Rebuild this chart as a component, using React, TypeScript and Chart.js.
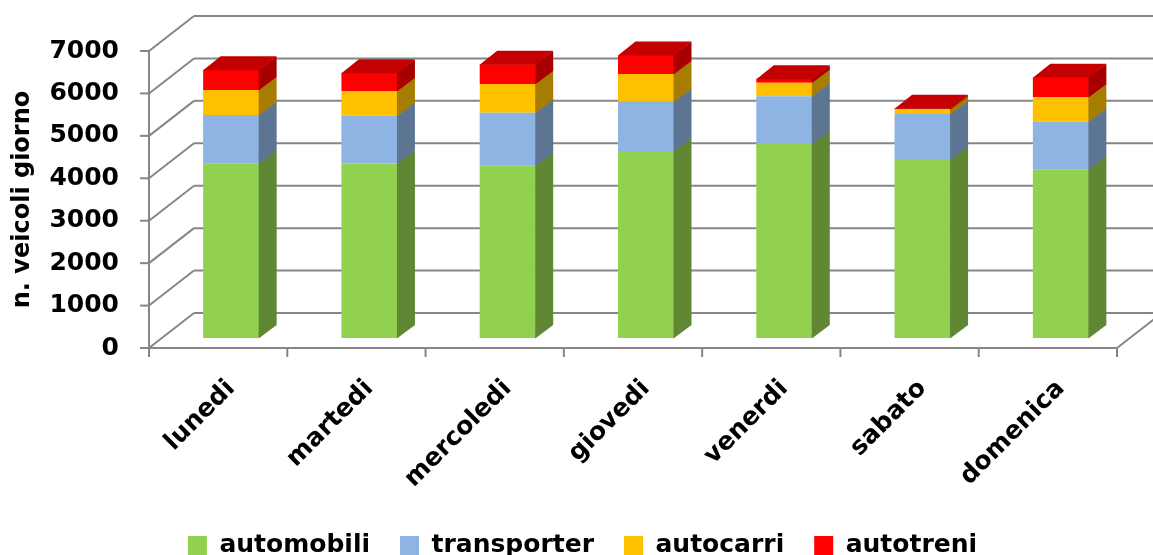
import React, { useEffect, useRef } from 'react';
import { Chart, registerables } from 'chart.js';

Chart.register(...registerables);

// ---- data ----
const days = ['lunedi', 'martedi', 'mercoledi', 'giovedi', 'venerdi', 'sabato', 'domenica'];
const automobili = [4120, 4110, 4060, 4410, 4570, 4195, 3975];
const transporter = [1135, 1130, 1250, 1160, 1130, 1085, 1120];
const autocarri = [590, 580, 675, 650, 315, 110, 580];
const autotreni = [480, 430, 465, 450, 95, 25, 470];
const seriesNames = ['automobili', 'transporter', 'autocarri', 'autotreni'];
const seriesColors = ['#92D050', '#8DB4E2', '#FFC000', '#FF0000'];
const yMin = 0;
const yMax = 7000;
const yStep = 1000;
const yTitle = 'n. veicoli giorno';

// ---- 3D look ----
const FRONT = { dx: -13, dy: 10 };
const BACK = { dx: 32, dy: -25 };
const DEPTH = { dx: 17.5, dy: -13.5 };
const GRID = '#868686';
const FONT = 'DejaVu Sans';

function shade(hex: string, f: number) {
  const n = parseInt(hex.slice(1), 16);
  const r = Math.round(((n >> 16) & 255) * f);
  const g = Math.round(((n >> 8) & 255) * f);
  const b = Math.round((n & 255) * f);
  return `rgb(${r},${g},${b})`;
}

const walls3d = {
  id: 'walls3d',
  beforeDatasetsDraw(chart: any) {
    const { ctx, chartArea, scales } = chart;
    const xs = scales.x;
    const ys = scales.y;
    const line = (x1: number, y1: number, x2: number, y2: number) => {
      ctx.beginPath();
      ctx.moveTo(x1, y1);
      ctx.lineTo(x2, y2);
      ctx.stroke();
    };
    ctx.save();
    ctx.strokeStyle = GRID;
    ctx.lineWidth = 2;
    const leftF = chartArea.left + FRONT.dx;
    const leftB = chartArea.left + BACK.dx;
    const rightF = chartArea.right + FRONT.dx;
    const rightB = chartArea.right + BACK.dx;
    ys.ticks.forEach((t: any) => {
      const py = ys.getPixelForValue(t.value);
      line(leftB, py + BACK.dy, rightB, py + BACK.dy);
      line(leftF, py + FRONT.dy, leftB, py + BACK.dy);
      line(leftF - 9, py + FRONT.dy, leftF, py + FRONT.dy);
    });
    const y0 = ys.getPixelForValue(yMin);
    const yTop = ys.getPixelForValue(yMax);
    line(leftF, yTop + FRONT.dy - 1, leftF, y0 + FRONT.dy + 1);
    line(leftF, y0 + FRONT.dy, rightF, y0 + FRONT.dy);
    line(rightF, y0 + FRONT.dy, rightB, y0 + BACK.dy);
    const n = days.length;
    const half = (xs.getPixelForValue(1) - xs.getPixelForValue(0)) / 2;
    for (let i = 0; i <= n; i++) {
      const bx = (i < n ? xs.getPixelForValue(i) - half : xs.getPixelForValue(n - 1) + half) + FRONT.dx;
      line(bx, y0 + FRONT.dy, bx, y0 + FRONT.dy + 9);
    }
    ctx.restore();
  },
  afterDatasetsDraw(chart: any) {
    const { ctx } = chart;
    const last = chart.data.datasets.length - 1;
    ctx.save();
    chart.data.datasets.forEach((ds: any, di: number) => {
      const meta = chart.getDatasetMeta(di);
      meta.data.forEach((bar: any) => {
        const { x, y, base, width } = bar.getProps(['x', 'y', 'base', 'width'], true);
        const left = x - width / 2;
        const right = x + width / 2;
        ctx.fillStyle = shade(ds.backgroundColor, 0.65);
        ctx.beginPath();
        ctx.moveTo(right - 0.5, y);
        ctx.lineTo(right + DEPTH.dx, y + DEPTH.dy);
        ctx.lineTo(right + DEPTH.dx, base + DEPTH.dy + 0.5);
        ctx.lineTo(right - 0.5, base + 0.5);
        ctx.closePath();
        ctx.fill();
        if (di === last) {
          ctx.fillStyle = shade(ds.backgroundColor, 0.77);
          ctx.beginPath();
          ctx.moveTo(left, y + 0.5);
          ctx.lineTo(left + DEPTH.dx, y + DEPTH.dy);
          ctx.lineTo(right + DEPTH.dx, y + DEPTH.dy);
          ctx.lineTo(right, y + 0.5);
          ctx.closePath();
          ctx.fill();
        }
      });
    });
    ctx.restore();
  },
  afterDraw(chart: any) {
    const { ctx, scales } = chart;
    const ys = scales.y;
    const cy = (ys.getPixelForValue(yMin) + ys.getPixelForValue(yMax)) / 2 + FRONT.dy;
    ctx.save();
    ctx.translate(29, cy);
    ctx.rotate(-Math.PI / 2);
    ctx.font = `bold 24px "${FONT}"`;
    ctx.fillStyle = '#000';
    ctx.textAlign = 'center';
    ctx.textBaseline = 'alphabetic';
    ctx.fillText(yTitle, 0, 0);
    ctx.restore();
  },
};

export default function App() {
  const ref = useRef<HTMLCanvasElement>(null);
  useEffect(() => {
    const series = [automobili, transporter, autocarri, autotreni];
    const tickFont = { family: FONT, size: 25, weight: 'bold' as const };
    const chart = new Chart(ref.current as HTMLCanvasElement, {
      type: 'bar',
      data: {
        labels: days,
        datasets: series.map((d, i) => ({
          label: seriesNames[i],
          data: d,
          backgroundColor: seriesColors[i],
          borderWidth: 0,
          categoryPercentage: 1,
          barPercentage: 0.405,
        })),
      },
      options: {
        responsive: false,
        animation: false,
        events: [],
        layout: { padding: { left: 35, right: 23, top: 41, bottom: 2 } },
        plugins: {
          legend: {
            position: 'bottom',
            labels: {
              boxWidth: 19,
              boxHeight: 19,
              padding: 30,
              color: '#000',
              font: tickFont,
            },
          },
          tooltip: { enabled: false },
        },
        scales: {
          x: {
            stacked: true,
            offset: true,
            grid: { display: false, drawTicks: false },
            border: { display: false },
            ticks: {
              autoSkip: false,
              minRotation: 45,
              maxRotation: 45,
              padding: 36,
              color: '#000',
              font: tickFont,
            },
            afterFit: (s: any) => {
              s.height = 165;
              s.paddingLeft = 0;
              s.paddingRight = 0;
            },
          },
          y: {
            stacked: true,
            min: yMin,
            max: yMax,
            grid: { display: false, drawTicks: false },
            border: { display: false },
            ticks: {
              stepSize: yStep,
              padding: 43,
              labelOffset: 10,
              color: '#000',
              font: tickFont,
              callback: (v: any) => String(v),
            },
            afterFit: (s: any) => {
              s.width = 127;
              s.paddingTop = 0;
              s.paddingBottom = 0;
            },
          },
        },
      },
      plugins: [walls3d],
    } as any);
    return () => chart.destroy();
  }, []);
  return (
    <div
      style={{
        position: 'absolute',
        left: 0,
        top: 0,
        width: 1153,
        height: 555,
        overflow: 'hidden',
        background: '#fff',
      }}
    >
      <canvas ref={ref} width={1153} height={570} style={{ display: 'block', width: 1153, height: 570 }} />
    </div>
  );
}
